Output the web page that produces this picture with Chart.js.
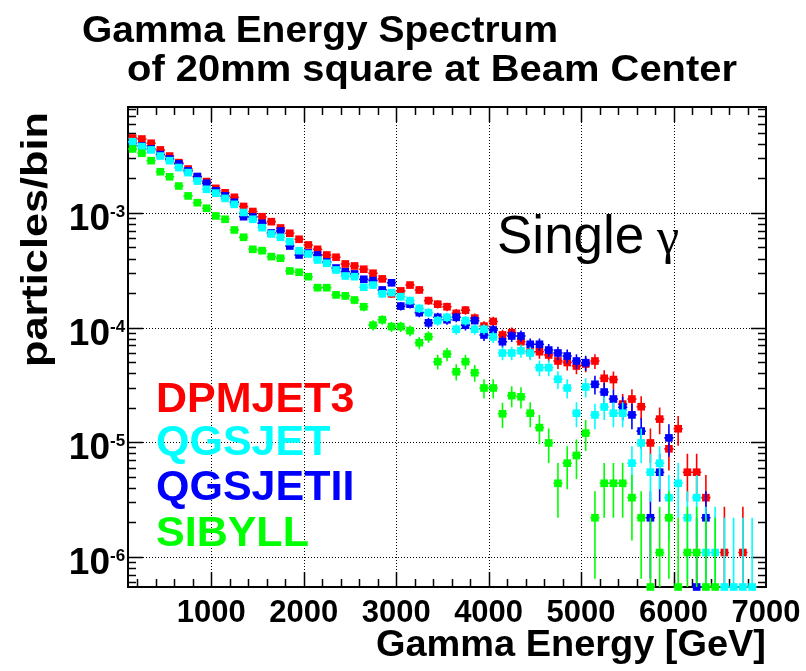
<!DOCTYPE html>
<html>
<head>
<meta charset="utf-8">
<script src="https://cdn.jsdelivr.net/npm/chart.js@4.4.1/dist/chart.umd.min.js"></script>
<style>
html,body{margin:0;padding:0;background:#fff;}
#wrap{position:relative;width:806px;height:671px;}
</style>
</head>
<body>
<div id="wrap"><canvas id="c"></canvas></div>
<script>
// ---------------- data ----------------
const energyBins = [150,250,350,450,550,650,750,850,950,1050,1150,1250,1350,1450,1550,1650,1750,1850,1950,2050,
  2150,2250,2350,2450,2550,2650,2750,2850,2950,3050,3150,3250,3350,3450,3550,3650,3750,3850,3950,4050,
  4150,4250,4350,4450,4550,4650,4750,4850,4950,5050,5150,5250,5350,5450,5550,5650,5750,5850,5950,6050,
  6150,6250,6350,6450,6550,6650,6750,6850,6950];

const dpmjet3 = [4.51e-3,4.42e-3,4.06e-3,3.55e-3,3.14e-3,2.75e-3,2.42e-3,2.07e-3,1.88e-3,1.64e-3,
  1.50e-3,1.37e-3,1.14e-3,1.03e-3,9.28e-4,8.40e-4,7.40e-4,6.65e-4,5.90e-4,5.26e-4,
  4.82e-4,4.30e-4,4.11e-4,3.59e-4,3.45e-4,3.23e-4,2.98e-4,2.66e-4,1.97e-4,2.09e-4,
  2.35e-4,2.13e-4,1.72e-4,1.60e-4,1.52e-4,1.33e-4,1.42e-4,1.21e-4,1.03e-4,1.13e-4,
  8.62e-5,9.03e-5,7.53e-5,6.12e-5,6.16e-5,5.77e-5,5.11e-5,4.96e-5,4.62e-5,4.81e-5,
  5.11e-5,3.61e-5,3.52e-5,2.15e-5,2.38e-5,2.04e-5,9.85e-6,1.59e-5,8.75e-6,1.31e-5,
  5.47e-6,5.47e-6,3.28e-6,null,1.09e-6,null,1.09e-6,null,null];

const qgsjet = [4.19e-3,3.79e-3,3.55e-3,3.14e-3,2.86e-3,2.49e-3,2.25e-3,1.90e-3,1.61e-3,1.49e-3,
  1.34e-3,1.19e-3,1.01e-3,8.81e-4,7.44e-4,6.56e-4,6.14e-4,5.62e-4,4.69e-4,4.39e-4,
  3.89e-4,3.64e-4,3.18e-4,2.82e-4,2.78e-4,2.25e-4,2.35e-4,1.97e-4,2.02e-4,1.86e-4,
  1.72e-4,1.47e-4,1.35e-4,1.15e-4,1.23e-4,9.67e-5,1.15e-4,9.67e-5,9.67e-5,8.28e-5,
  6.00e-5,6.00e-5,6.28e-5,6.00e-5,4.47e-5,4.47e-5,3.54e-5,2.97e-5,1.79e-5,3.03e-5,
  1.73e-5,2.03e-5,1.79e-5,1.79e-5,6.56e-6,9.85e-6,5.47e-6,6.56e-6,3.28e-6,4.38e-6,
  2.19e-6,3.28e-6,1.09e-6,1.09e-6,5.45e-7,5.45e-7,5.45e-7,5.45e-7,null];

const qgsjet2 = [4.08e-3,3.84e-3,3.62e-3,3.24e-3,2.96e-3,2.68e-3,2.33e-3,2.08e-3,1.82e-3,1.56e-3,
  1.41e-3,1.24e-3,9.28e-4,9.23e-4,8.13e-4,6.69e-4,6.97e-4,5.15e-4,4.30e-4,4.48e-4,
  4.30e-4,3.74e-4,3.31e-4,3.07e-4,2.94e-4,2.64e-4,2.57e-4,2.13e-4,2.46e-4,1.54e-4,
  1.60e-4,1.35e-4,1.10e-4,1.23e-4,1.17e-4,1.23e-4,1.05e-4,1.15e-4,8.62e-5,9.53e-5,
  7.53e-5,8.45e-5,8.45e-5,7.15e-5,7.15e-5,6.37e-5,6.00e-5,5.65e-5,5.11e-5,4.94e-5,
  3.20e-5,2.74e-5,2.38e-5,2.02e-5,1.73e-5,1.25e-5,2.19e-6,5.47e-6,1.09e-5,null,
  null,5.45e-7,2.19e-6,null,null,null,null,null,null];

const sibyll = [3.62e-3,3.32e-3,2.86e-3,2.29e-3,2.07e-3,1.72e-3,1.41e-3,1.23e-3,1.10e-3,9.42e-4,
  8.81e-4,7.11e-4,6.14e-4,4.82e-4,4.69e-4,4.16e-4,4.03e-4,3.12e-4,3.04e-4,2.78e-4,
  2.23e-4,2.23e-4,1.93e-4,1.89e-4,1.74e-4,1.52e-4,1.05e-4,1.17e-4,1.02e-4,1.02e-4,
  9.40e-5,7.38e-5,8.33e-5,5.04e-5,5.88e-5,4.12e-5,5.04e-5,4.04e-5,2.97e-5,2.97e-5,
  1.77e-5,2.55e-5,2.49e-5,1.79e-5,1.34e-5,9.85e-6,4.38e-6,6.56e-6,7.66e-6,1.20e-5,
  2.19e-6,4.38e-6,4.38e-6,4.38e-6,3.28e-6,2.19e-6,5.45e-7,1.09e-6,2.19e-6,5.45e-7,
  1.09e-6,1.09e-6,5.45e-7,5.45e-7,null,null,null,null,null];

const seriesNames = ['DPMJET3','QGSJET','QGSJETII','SIBYLL'];
const xTickLabels = ['1000','2000','3000','4000','5000','6000','7000'];
const yDecades = [1e-3,1e-4,1e-5,1e-6];
const yDecadeExponents = ['-3','-4','-5','-6'];

const COUNT_UNIT = 1.094e-6;   // value of one entry (sets the Poisson error bars)
const BIN_WIDTH = 100;
const X_MIN = 100, X_MAX = 7000;
const Y_MIN = 5.45e-7, Y_MAX = 8.41e-3;

// ---------------- styles ----------------
const COLORS = {DPMJET3:'#ff0000', QGSJET:'#00ffff', QGSJETII:'#0000ff', SIBYLL:'#00ff00'};
const SANS = '"Liberation Sans", Arial, Helvetica, sans-serif';

function toPoints(arr){
  const pts = [];
  energyBins.forEach((e,i)=>{ if(arr[i]!==null && arr[i]!==undefined) pts.push({x:e, y:arr[i]}); });
  return pts;
}
const seriesData = {DPMJET3:dpmjet3, QGSJET:qgsjet, QGSJETII:qgsjet2, SIBYLL:sibyll};
const drawOrder = {SIBYLL:0, QGSJET:1, QGSJETII:2, DPMJET3:3};

const datasets = seriesNames.map(n=>({
  label:n,
  data:toPoints(seriesData[n]),
  backgroundColor:COLORS[n],
  borderColor:COLORS[n],
  pointStyle:'rect',
  pointRadius:5.4,
  pointBorderWidth:0,
  pointHoverRadius:5.4,
  showLine:false,
  clip:false,
  order:drawOrder[n]
}));

function fitText(ctx, text, x, y, w, font, align){
  ctx.font = font;
  const m = ctx.measureText(text).width;
  const s = w / m;
  ctx.save();
  ctx.translate(x, y);
  ctx.scale(s, 1);
  ctx.textAlign = 'left';
  ctx.fillText(text, align === 'right' ? -m : 0, 0);
  ctx.restore();
}

const rootStyle = {
  id:'rootStyle',
  beforeDatasetsDraw(chart){
    const {ctx, chartArea:a, scales:{x, y}} = chart;
    ctx.save();
    // dotted grid
    ctx.strokeStyle = '#000';
    ctx.lineWidth = 1;
    ctx.setLineDash([1,2]);
    xTickLabels.forEach(l=>{
      const v = Number(l);
      if (v >= X_MAX) return;
      const px = Math.round(x.getPixelForValue(v)) + 0.5;
      ctx.beginPath(); ctx.moveTo(px, a.top); ctx.lineTo(px, a.bottom); ctx.stroke();
    });
    yDecades.forEach(v=>{
      const py = Math.round(y.getPixelForValue(v)) + 0.5;
      ctx.beginPath(); ctx.moveTo(a.left, py); ctx.lineTo(a.right, py); ctx.stroke();
    });
    ctx.setLineDash([]);
    // ticks (inside frame, on all four sides)
    ctx.lineWidth = 1.5;
    const tickX = (v, len)=>{
      const px = Math.round(x.getPixelForValue(v)) + 0.5;
      ctx.beginPath();
      ctx.moveTo(px, a.bottom); ctx.lineTo(px, a.bottom - len);
      ctx.moveTo(px, a.top); ctx.lineTo(px, a.top + len);
      ctx.stroke();
    };
    for (let e = 200; e < X_MAX; e += 200) tickX(e, e % 1000 === 0 ? 15 : 8);
    const tickY = (v, len)=>{
      const py = Math.round(y.getPixelForValue(v)) + 0.5;
      ctx.beginPath();
      ctx.moveTo(a.left, py); ctx.lineTo(a.left + len, py);
      ctx.moveTo(a.right, py); ctx.lineTo(a.right - len, py);
      ctx.stroke();
    };
    for (let ex = -7; ex <= -2; ex++) {
      for (let m = 1; m <= 9; m++) {
        const v = m * Math.pow(10, ex);
        if (v < Y_MIN || v > Y_MAX) continue;
        tickY(v, m === 1 ? 15 : 8);
      }
    }
    // frame
    ctx.lineWidth = 2;
    ctx.strokeRect(a.left, a.top, a.right - a.left, a.bottom - a.top);
    ctx.restore();
  },
  beforeDatasetDraw(chart, args){
    const {ctx, chartArea:a, scales:{x, y}} = chart;
    const ds = chart.data.datasets[args.index];
    ctx.save();
    ctx.strokeStyle = ds.borderColor;
    ctx.lineWidth = 1.6;
    ctx.beginPath();
    ds.data.forEach(p=>{
      const err = p.y >= COUNT_UNIT ? Math.sqrt(p.y * COUNT_UNIT) : 1.5 * COUNT_UNIT;
      const px = x.getPixelForValue(p.x);
      const top = Math.max(a.top, y.getPixelForValue(p.y + err));
      const low = p.y - err;
      const bot = low > Y_MIN ? y.getPixelForValue(low) : a.bottom;
      ctx.moveTo(px, top); ctx.lineTo(px, bot);
      const py = y.getPixelForValue(p.y);
      ctx.moveTo(x.getPixelForValue(p.x - BIN_WIDTH/2), py);
      ctx.lineTo(x.getPixelForValue(p.x + BIN_WIDTH/2), py);
    });
    ctx.stroke();
    ctx.restore();
  },
  afterDraw(chart){
    const {ctx, scales:{x, y}} = chart;
    ctx.save();
    ctx.fillStyle = '#000';
    ctx.textBaseline = 'alphabetic';
    // title
    fitText(ctx, 'Gamma Energy Spectrum', 82, 42, 476, 'bold 36px ' + SANS);
    fitText(ctx, 'of 20mm square at Beam Center', 127, 81, 610, 'bold 36px ' + SANS);
    // x tick labels
    ctx.font = 'bold 31px ' + SANS;
    ctx.textAlign = 'center';
    xTickLabels.forEach(l=>{
      ctx.fillText(l, x.getPixelForValue(Number(l)), 622);
    });
    // y tick labels with superscript exponents
    yDecades.forEach((v,i)=>{
      const ty = y.getPixelForValue(v);
      ctx.font = 'bold 37px ' + SANS;
      ctx.textAlign = 'right';
      ctx.fillText('10', 110, ty + 17);
      ctx.font = 'bold 17px ' + SANS;
      ctx.textAlign = 'left';
      ctx.fillText(yDecadeExponents[i], 110, ty + 4);
    });
    // axis titles
    fitText(ctx, 'Gamma Energy [GeV]', 766, 656, 390, 'bold 36px ' + SANS, 'right');
    ctx.save();
    ctx.translate(47, 112);
    ctx.rotate(-Math.PI/2);
    fitText(ctx, 'particles/bin', 0, 0, 255, 'bold 36px ' + SANS, 'right');
    ctx.restore();
    // legend texts
    const legendBase = [412, 455, 500, 546];
    seriesNames.forEach((n,i)=>{
      ctx.fillStyle = COLORS[n];
      ctx.font = 'bold 43px ' + SANS;
      ctx.textAlign = 'left';
      ctx.fillText(n, 156, legendBase[i]);
    });
    // annotation
    ctx.fillStyle = '#000';
    ctx.font = '53px ' + SANS;
    ctx.textAlign = 'left';
    ctx.fillText('Single', 497, 253);
    ctx.font = '50px "Liberation Serif", "Times New Roman", serif';
    ctx.fillText('\u03B3', 657, 253);
    ctx.restore();
  }
};

new Chart(document.getElementById('c'), {
  type:'scatter',
  data:{datasets},
  options:{
    responsive:true,
    maintainAspectRatio:false,
    animation:false,
    devicePixelRatio:1,
    layout:{padding:{top:107, right:40, bottom:0, left:0}},
    plugins:{legend:{display:false}, tooltip:{enabled:false}, title:{display:false}},
    events:[],
    scales:{
      x:{type:'linear', min:X_MIN, max:X_MAX,
         grid:{display:false}, border:{display:false}, ticks:{display:false},
         afterFit(s){ s.height = 84; }},
      y:{type:'logarithmic', min:Y_MIN, max:Y_MAX,
         grid:{display:false}, border:{display:false}, ticks:{display:false},
         afterFit(s){ s.width = 128; }}
    }
  },
  plugins:[rootStyle]
});
</script>
</body>
</html>
